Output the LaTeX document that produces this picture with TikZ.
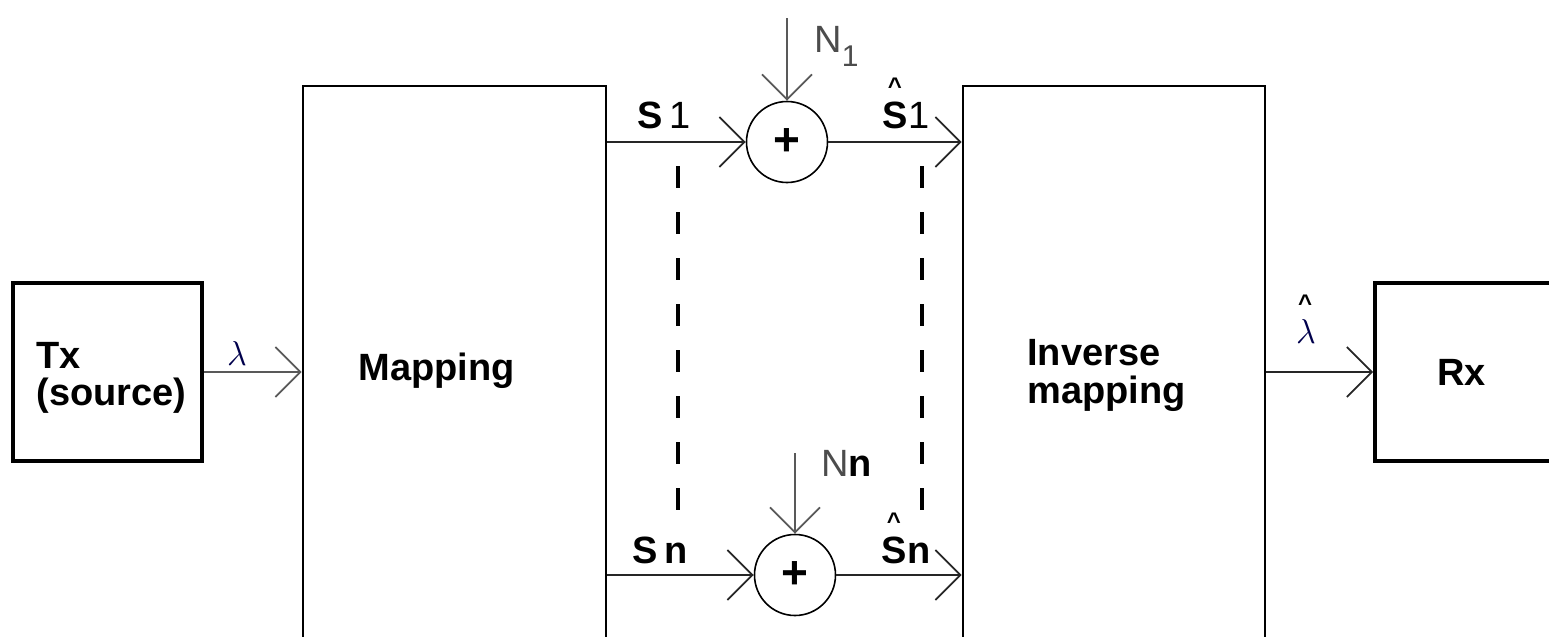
\documentclass[tikz,border=0pt]{standalone}
\usepackage{fontspec}
\setmainfont{Liberation Sans}
\usetikzlibrary{arrows.meta}
\begin{document}
\begin{tikzpicture}[x=0.5pt,y=-0.5pt,
  box/.style={draw, line width=1.3pt, inner sep=0pt},
  smallbox/.style={draw, line width=1.8pt, inner sep=0pt},
  txt/.style={font=\bfseries\fontsize{19}{19}\selectfont, inner sep=0pt, align=left},
  sig/.style={draw=black!85, line width=1pt, -{Straight Barb[length=12.5pt,width=25pt,line width=0.9pt]}},
  gsig/.style={draw=black!65, line width=1pt, -{Straight Barb[length=12.5pt,width=25pt,line width=0.9pt]}},
  adder/.style={draw, circle, line width=0.8pt, minimum size={81*0.5pt}, inner sep=0pt, font=\bfseries\fontsize{23}{23}\selectfont},
  dsh/.style={draw, line width=1.6pt, dash pattern=on 11pt off 12pt},
  slab/.style={font=\fontsize{19}{19}\selectfont, inner sep=0pt, anchor=base},
  nlab/.style={font=\fontsize{19}{19}\selectfont, text=black!70, inner sep=0pt, anchor=base west},
  hatc/.style={font=\bfseries\fontsize{12}{12}\selectfont, text=black, inner sep=0pt}
]
\path[use as bounding box, clip] (0,0) rectangle (1549,637);

% blocks
\node[smallbox, minimum width={189*0.5pt}, minimum height={178*0.5pt}] (tx) at (107.5,372) {};
\node[box, minimum width={303*0.5pt}, minimum height={620*0.5pt}] (map) at (454.5,396) {};
\node[box, minimum width={302*0.5pt}, minimum height={620*0.5pt}] (inv) at (1114,396) {};
\node[smallbox, minimum width={400*0.5pt}, minimum height={178*0.5pt}] (rx) at (1575,372) {};

% block texts
\node[txt, anchor=base west] (txl) at (36,405) {Tx\\[-0.5pt](source)};
\node[txt, anchor=base west] (mapl) at (358,380) {Mapping};
\node[txt, anchor=base west] (invl) at (1027,403) {Inverse\\mapping};
\node[txt, anchor=base west] (rxl) at (1437,385) {Rx};

% adders
\node[adder] (add1) at (787,142) {+};
\node[adder] (addn) at (795,575) {+};

% noise inputs
\coordinate (n1) at (787,18);
\coordinate (nn) at (795,453);
\draw[gsig] (n1) -- (add1.north);
\draw[gsig] (nn) -- (addn.north);
\node[nlab] (n1l) at (814,52) {N\raisebox{-7pt}{\fontsize{15}{15}\selectfont 1}};
\node[nlab] (nnl) at (821,476) {N\textbf{\textcolor{black}{n}}};

% channels
\draw[sig] (map.east |- add1.west) -- (add1.west);
\draw[sig] (add1.east) -- (add1.east -| inv.west);
\draw[sig] (map.east |- addn.west) -- (addn.west);
\draw[sig] (addn.east) -- (addn.east -| inv.west);

% channel labels
\node[slab] (s1l) at (664,128) {\textbf{S}\,1};
\node[slab] (s1h) at (906,128) {\rlap{\raisebox{17pt}{\hspace{2.6pt}\bfseries\fontsize{12}{12}\selectfont\char94}}\textbf{S}1};
\node[slab] (snl) at (660,563) {\textbf{S\,n}};
\node[slab] (snh) at (906,563) {\rlap{\raisebox{17pt}{\hspace{2.6pt}\bfseries\fontsize{12}{12}\selectfont\char94}}\textbf{Sn}};

% dashed guides
\coordinate (d1t) at (678,166);
\coordinate (d1b) at (678,516);
\coordinate (d2t) at (922,166);
\coordinate (d2b) at (922,516);
\draw[dsh] (d1t) -- (d1b);
\draw[dsh] (d2t) -- (d2b);

% source / sink signals
\draw[gsig] (tx.east) -- (tx.east -| map.west);
\node[font=\fontsize{16}{16}\selectfont, text=blue!30!black, inner sep=0pt] (lam) at (237,353) {$\lambda$};
\draw[sig] (inv.east |- rx.west) -- (rx.west);
\node[font=\fontsize{16}{16}\selectfont, text=blue!30!black, inner sep=0pt] (lamh) at (1306,331) {$\lambda$};
\node[hatc] (lamhat) at (1305,303) {\char94};
\end{tikzpicture}
\end{document}
